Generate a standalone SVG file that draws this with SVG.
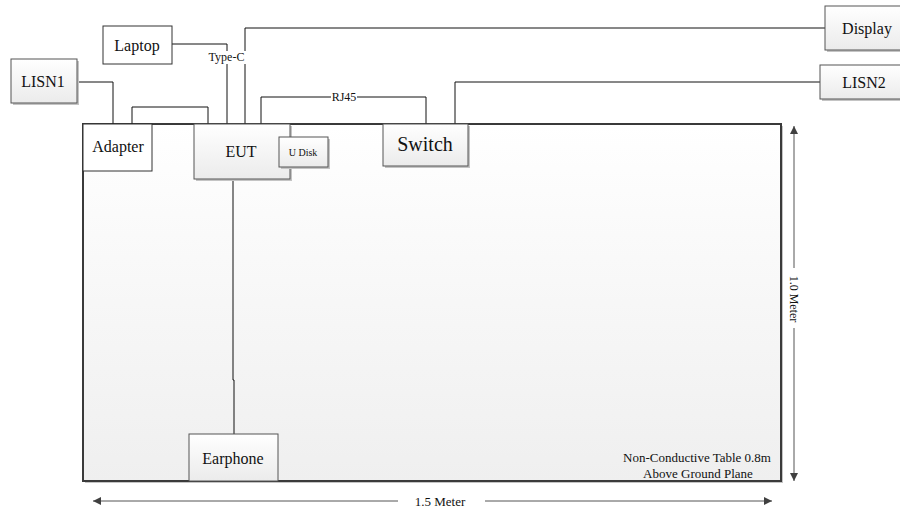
<svg xmlns="http://www.w3.org/2000/svg" width="900" height="512" viewBox="0 0 900 512" font-family="'Liberation Serif', 'DejaVu Serif', serif">
<defs>
<linearGradient id="g" x1="0" y1="0" x2="0" y2="1"><stop offset="0" stop-color="#ffffff"/><stop offset="1" stop-color="#ebebeb"/></linearGradient>
<linearGradient id="gt" x1="0" y1="0" x2="0" y2="1"><stop offset="0" stop-color="#ffffff"/><stop offset="1" stop-color="#efefef"/></linearGradient>
<marker id="ah" viewBox="0 0 10 10" refX="10" refY="5" markerWidth="13" markerHeight="8" markerUnits="userSpaceOnUse" orient="auto"><path d="M0,0 L10,5 L0,10 Z" fill="#404040"/></marker>
</defs>
<style>
text{font-family:"Liberation Serif","DejaVu Serif",serif;fill:#111;text-anchor:middle;dominant-baseline:central}
.box{fill:url(#g);stroke:#555;stroke-width:1}
.sh{fill:#c4c4c4}
.ln{fill:none;stroke:#111;stroke-width:1}
.dim{fill:none;stroke:#555;stroke-width:1}
</style>
<rect width="900" height="512" fill="#fff"/>
<g id="table">
<rect x="85" y="126" width="698" height="357" class="sh"/>
<rect x="83" y="124" width="698" height="357" fill="url(#gt)" stroke="#3a3a3a" stroke-width="2"/>
<text x="697" y="457" font-size="13">Non-Conductive Table 0.8m</text>
<text x="698" y="473" font-size="13">Above Ground Plane</text>
</g>
<g id="connectors">
<polyline class="ln" points="77,82 113,82 113,124"/>
<polyline class="ln" points="132,124 132,107 208,107 208,124"/>
<polyline class="ln" points="172,44 227,44 227,124"/>
<polyline class="ln" points="825,28 245,28 245,124"/>
<polyline class="ln" points="261,124 261,97 426,97 426,124"/>
<polyline class="ln" points="820,82 455,82 455,124"/>
<polyline class="ln" points="233,179 233,380 234,380 234,434"/>
<rect x="207" y="51" width="39" height="13" fill="#fff"/>
<text x="226.5" y="57" font-size="12" fill="#333">Type-C</text>
<rect x="331" y="91" width="26" height="12" fill="#fff"/>
<text x="344" y="97" font-size="12" fill="#333">RJ45</text>
</g>
<g id="LISN1"><rect x="13" y="61" width="66" height="44" class="sh"/><rect x="11" y="59" width="66" height="44" class="box"/><text x="43" y="81" font-size="16">LISN1</text></g>
<g id="Laptop"><rect x="103" y="26" width="69" height="38" fill="#fff" stroke="#333"/><text x="137" y="45" font-size="16">Laptop</text></g>
<g id="Adapter"><rect x="83" y="124" width="69" height="47" fill="#fff" stroke="#333"/><text x="118" y="146" font-size="16">Adapter</text></g>
<g id="EUT"><rect x="196" y="126" width="96" height="55" class="sh"/><rect x="194" y="124" width="96" height="55" class="box"/><text x="241" y="151" font-size="16">EUT</text></g>
<g id="UDisk"><rect x="281" y="139" width="49" height="30" class="sh"/><rect x="279" y="137" width="49" height="30" class="box"/><text x="303" y="152" font-size="10">U Disk</text></g>
<g id="Switch"><rect x="385" y="126" width="85" height="42" class="sh"/><rect x="383" y="124" width="85" height="42" class="box"/><text x="425" y="144" font-size="20">Switch</text></g>
<g id="Display"><rect x="827" y="8" width="75" height="44" class="sh"/><rect x="825" y="6" width="76" height="44" class="box"/><text x="867" y="28" font-size="16">Display</text></g>
<g id="LISN2"><rect x="822" y="67" width="80" height="34" class="sh"/><rect x="820" y="65" width="81" height="34" class="box"/><text x="864" y="82" font-size="16">LISN2</text></g>
<g id="Earphone"><rect x="189" y="434" width="89" height="47" class="box"/><text x="233" y="458" font-size="16">Earphone</text></g>
<g id="dimensions">
<line class="dim" x1="794" y1="268" x2="794" y2="126" marker-end="url(#ah)"/>
<line class="dim" x1="794" y1="328" x2="794" y2="481" marker-end="url(#ah)"/>
<text transform="translate(794,299) rotate(90)" font-size="12">1.0 Meter</text>
<line class="dim" x1="398" y1="501" x2="93" y2="501" marker-end="url(#ah)"/>
<line class="dim" x1="485" y1="501" x2="772" y2="501" marker-end="url(#ah)"/>
<text x="440" y="501" font-size="13">1.5 Meter</text>
</g>
</svg>
